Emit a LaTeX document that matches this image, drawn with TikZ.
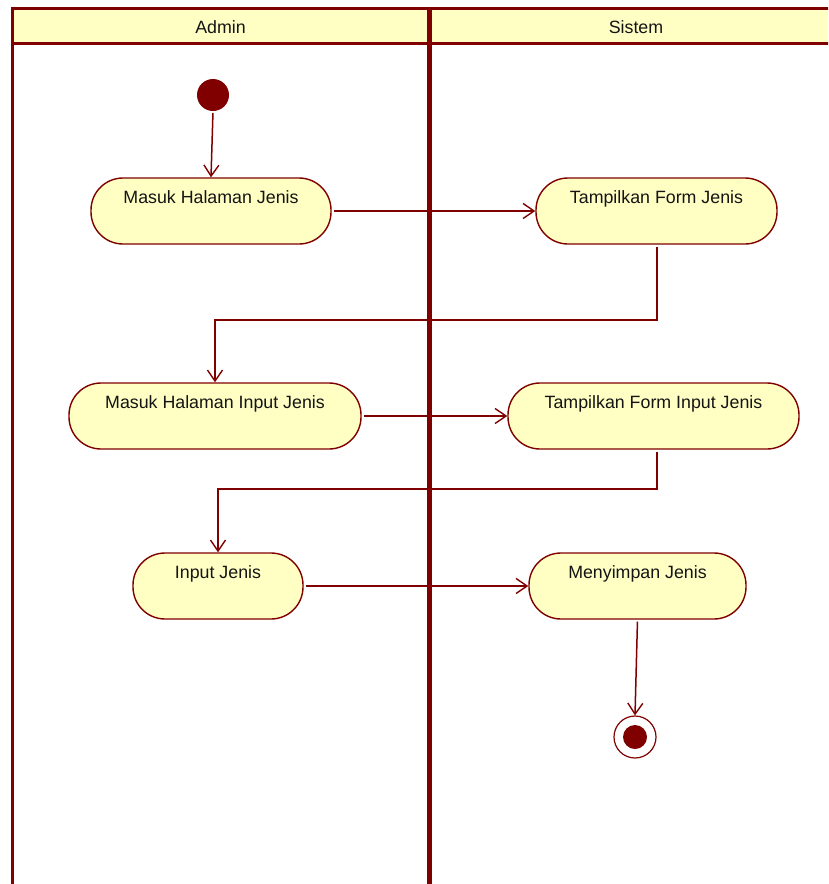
\documentclass[tikz,border=0pt]{standalone}
\usepackage{fontspec}
\setmainfont{Liberation Sans}
\usetikzlibrary{arrows.meta}
\definecolor{lane}{HTML}{800000}
\definecolor{actfill}{HTML}{FFFFC4}
\definecolor{txt}{HTML}{141414}
\tikzset{
  act/.style={draw=lane, line width=1.4pt, fill=actfill, rounded corners=32pt,
    inner xsep=0pt, inner ysep=0pt, minimum height=66pt,
    text height=25pt, text depth=41pt, text=txt, font=\fontsize{17.8}{20}\selectfont},
  arr/.style={draw=lane, line width=1.5pt, -{Straight Barb[length=11pt,width=15pt,line width=1.4pt]}, shorten <=2pt},
  lanehead/.style={text=txt, font=\fontsize{17.8}{20}\selectfont}
}
\begin{document}
\begin{tikzpicture}[x=1pt,y=-1pt]
\useasboundingbox (0,0) rectangle (828,884);
\begin{scope}
\clip (0,0) rectangle (828,884);
% lanes
\fill[actfill] (12.5,8.5) rectangle (845,43);
\draw[lane, line width=3pt] (845,8.5) -- (12.5,8.5) -- (12.5,890);
\draw[lane, line width=3pt] (12.5,43) -- (845,43);
\draw[lane, line width=5pt] (429,8.5) -- (429,890);
\node[lanehead] (hadmin) at (220.5,27) {Admin};
\node[lanehead] (hsistem) at (636,27) {Sistem};
\end{scope}
% start
\node[circle, fill=lane, minimum size=32pt, inner sep=0pt] (start) at (213,95) {};
% activities
\node[act, minimum width=240pt] (a1) at (211,211) {Masuk Halaman Jenis};
\node[act, minimum width=241pt] (s1) at (656.5,211) {Tampilkan Form Jenis};
\node[act, minimum width=292pt] (a2) at (215,416) {Masuk Halaman Input Jenis};
\node[act, minimum width=291pt] (s2) at (653.5,416) {Tampilkan Form Input Jenis};
\node[act, minimum width=170pt] (a3) at (218,586) {Input Jenis};
\node[act, minimum width=217pt] (s3) at (637.5,586) {Menyimpan Jenis};
% end
\node[circle, draw=lane, line width=1.2pt, fill=white, minimum size=42pt, inner sep=0pt] (end) at (635,737) {};
\node[circle, fill=lane, minimum size=24pt, inner sep=0pt] (endin) at (end.center) {};
% connectors
\coordinate (k1) at (657,320);
\coordinate (k2) at (657,489);
\draw[arr] (start.south) -- (a1.north);
\draw[arr] (a1) -- (s1);
\draw[arr] (s1.south -| k1) -- (k1) -| (a2.north);
\draw[arr] (a2) -- (s2);
\draw[arr] (s2.south -| k2) -- (k2) -| (a3.north);
\draw[arr] (a3) -- (s3);
\draw[arr] (s3.south) -- (end.north);
\end{tikzpicture}
\end{document}
